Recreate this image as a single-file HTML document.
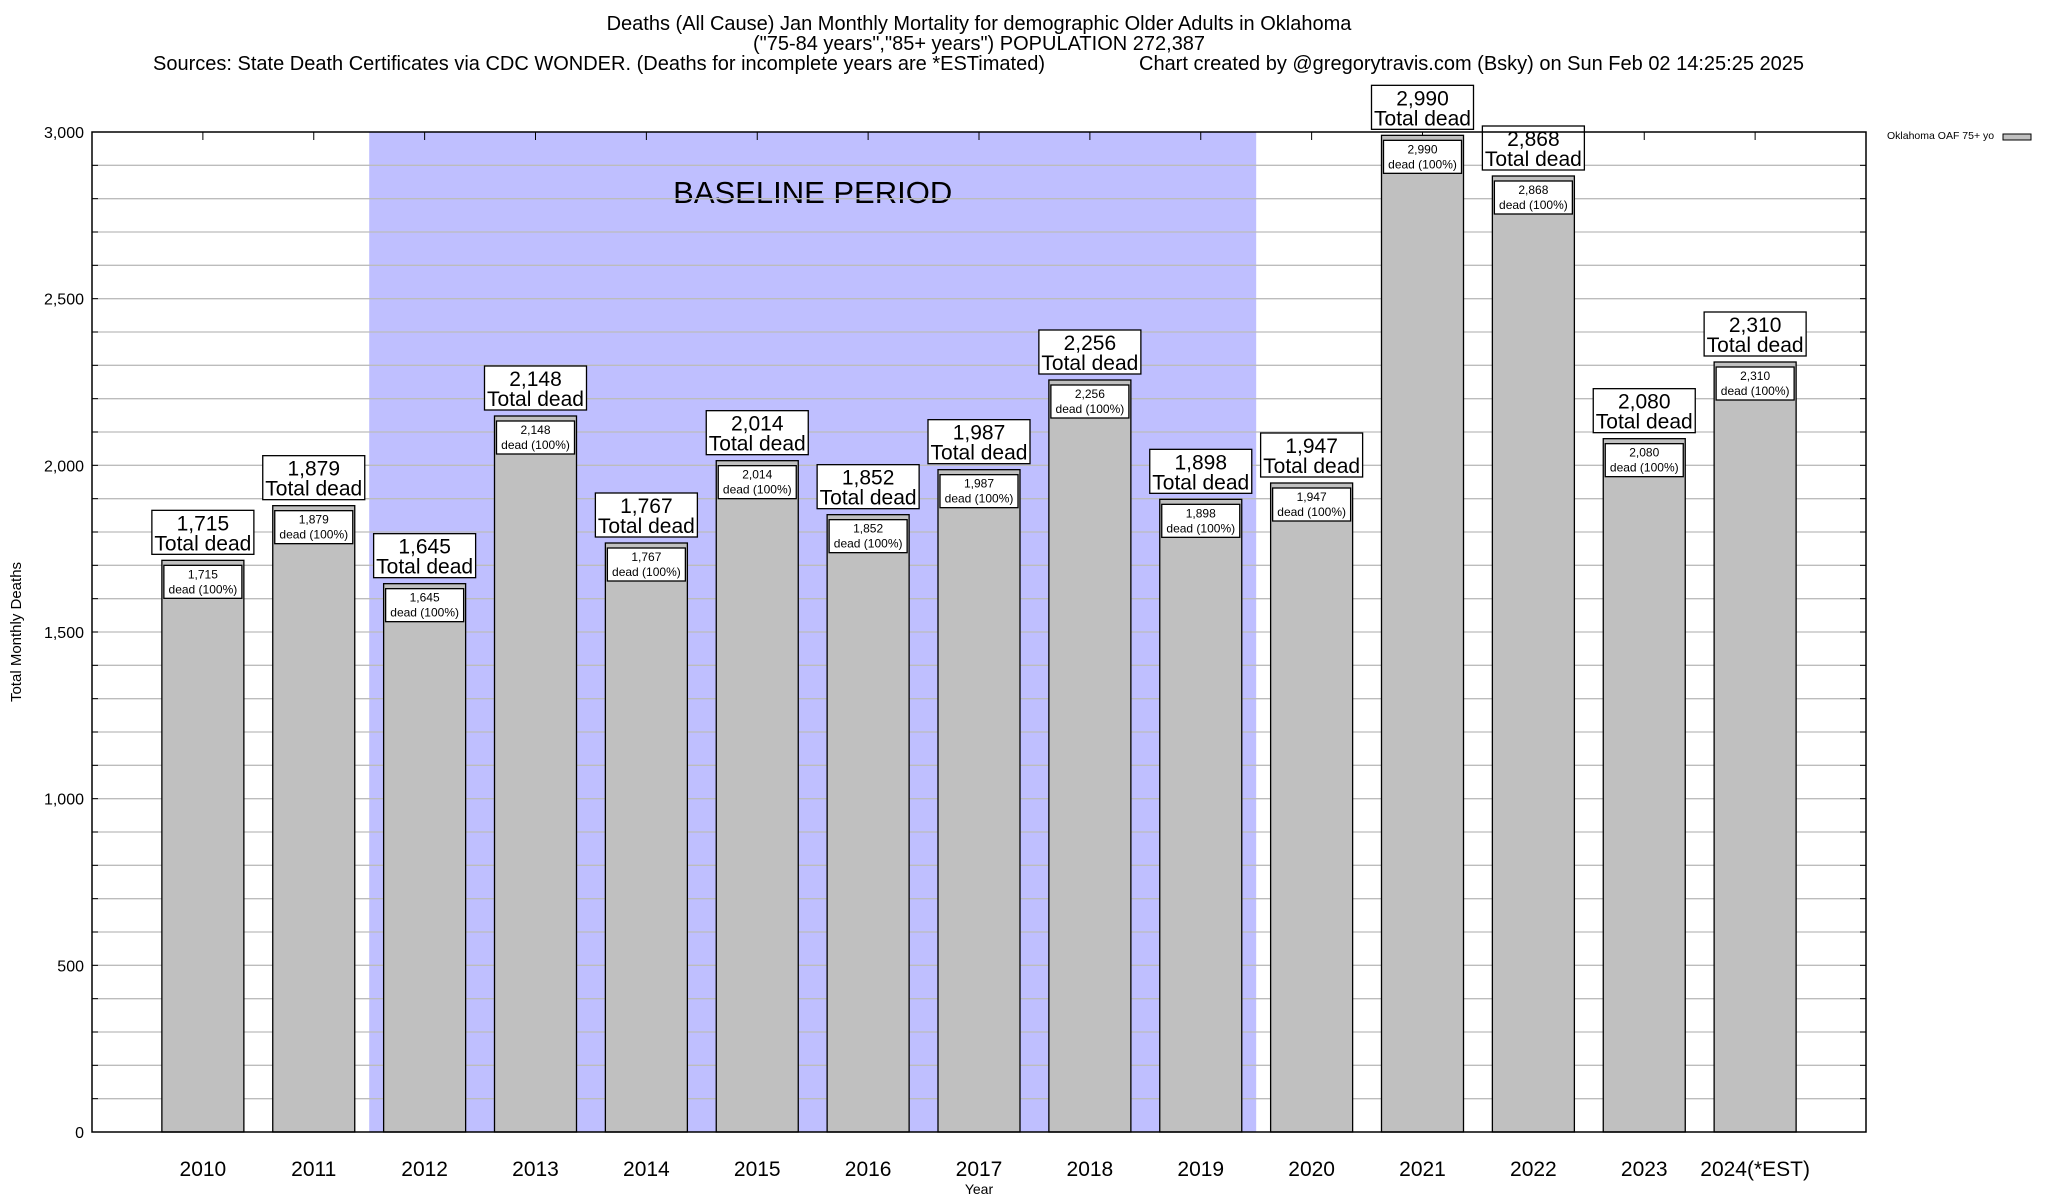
<!DOCTYPE html>
<html><head><meta charset="utf-8">
<style>
html,body{margin:0;padding:0;background:#fff;}
svg{display:block;font-family:"Liberation Sans",Arial,sans-serif;}
</style></head>
<body>
<svg id="chart" width="2048" height="1200" viewBox="0 0 2048 1200" xmlns="http://www.w3.org/2000/svg">
<text x="979" y="30" font-size="20" text-anchor="middle">Deaths (All Cause) Jan Monthly Mortality for demographic Older Adults in Oklahoma</text>
<text x="979" y="50" font-size="20" text-anchor="middle">("75-84 years","85+ years") POPULATION 272,387</text>
<text x="153" y="70" font-size="20" textLength="892" lengthAdjust="spacingAndGlyphs">Sources: State Death Certificates via CDC WONDER. (Deaths for incomplete years are *ESTimated)</text>
<text x="1139" y="70" font-size="20" textLength="665" lengthAdjust="spacingAndGlyphs">Chart created by @gregorytravis.com (Bsky) on Sun Feb 02 14:25:25 2025</text>
<g id="plot"></g>
<text transform="translate(21,632) rotate(-90)" font-size="15" text-anchor="middle">Total Monthly Deaths</text>
<text x="979" y="1194" font-size="14" text-anchor="middle">Year</text>
<text x="1887" y="139" font-size="10.5">Oklahoma OAF 75+ yo</text>
<rect x="2003" y="134" width="28" height="6" fill="#c0c0c0" stroke="#000" stroke-width="1"/>
</svg>
<script>
const categories = ["2010","2011","2012","2013","2014","2015","2016","2017","2018","2019","2020","2021","2022","2023","2024(*EST)"];
const deaths = [1715,1879,1645,2148,1767,2014,1852,1987,2256,1898,1947,2990,2868,2080,2310];
const yTicks = [0,500,1000,1500,2000,2500,3000];
const baselineStart = 2, baselineEnd = 9;

const L=92,R=1866,T=132,B=1132,YMAX=3000;
const slot=(R-L)/(categories.length+1);
const xC=i=>L+(i+1)*slot;
const y=v=>B-(v/YMAX)*(B-T);
const NS="http://www.w3.org/2000/svg";
const g=document.getElementById('plot');
function mk(tag,attrs,parent){const e=document.createElementNS(NS,tag);for(const k in attrs)e.setAttribute(k,attrs[k]);(parent||g).appendChild(e);return e;}
const fmt=v=>v.toLocaleString('en-US');

let sh=mk('rect',{x:xC(baselineStart)-slot/2,y:T,width:(baselineEnd-baselineStart+1)*slot,height:B-T,fill:'#bfbfff'});


let bt=mk('text',{x:(xC(baselineStart)+xC(baselineEnd))/2,y:203,'font-size':31,'text-anchor':'middle'});
bt.textContent='BASELINE PERIOD';



for(let v=100;v<YMAX;v+=100){
  let gl=mk('line',{x1:L,x2:R,y1:y(v),y2:y(v),stroke:'#bcbcbc','stroke-width':1.3});
  
  
  mk('line',{x1:L,x2:L+6,y1:y(v),y2:y(v),stroke:'#000'});
  mk('line',{x1:R-6,x2:R,y1:y(v),y2:y(v),stroke:'#000'});
}
yTicks.forEach(v=>{
  let t=mk('text',{x:84,y:y(v)+6,'font-size':16,'text-anchor':'end'});
  t.textContent=fmt(v);
  
  
});

categories.forEach((c,i)=>{
  const cx=xC(i),v=deaths[i],bw=82,top=y(v);
  mk('line',{x1:cx,x2:cx,y1:T,y2:T+8,stroke:'#000'});
  let b=mk('rect',{x:cx-bw/2,y:top,width:bw,height:B-top,fill:'#c0c0c0',stroke:'#000','stroke-width':1.3});
  
  
  let ib=mk('rect',{x:cx-bw/2+2,y:top+5,width:bw-4,height:33,fill:'#fff',stroke:'#000','stroke-width':1.3});
  
  
  let t1=mk('text',{x:cx,y:top+18,'font-size':12,'text-anchor':'middle'});t1.textContent=fmt(v);
  
  
  let t2=mk('text',{x:cx,y:top+33,'font-size':12,'text-anchor':'middle'});t2.textContent='dead (100%)';
  
  
  let ob=mk('rect',{x:cx-51,y:top-50,width:102,height:44,fill:'#fff',stroke:'#000','stroke-width':1.3});
  
  
  let o1=mk('text',{x:cx,y:top-30,'font-size':21,'text-anchor':'middle'});o1.textContent=fmt(v);
  
  
  let o2=mk('text',{x:cx,y:top-10,'font-size':21,'text-anchor':'middle'});o2.textContent='Total dead';
  
  
  let xl=mk('text',{x:cx,y:1176,'font-size':21,'text-anchor':'middle'});xl.textContent=c;
  
  
});
let fr=mk('rect',{x:L,y:T,width:R-L,height:B-T,fill:'none',stroke:'#000','stroke-width':1.5});


</script>
</body></html>
